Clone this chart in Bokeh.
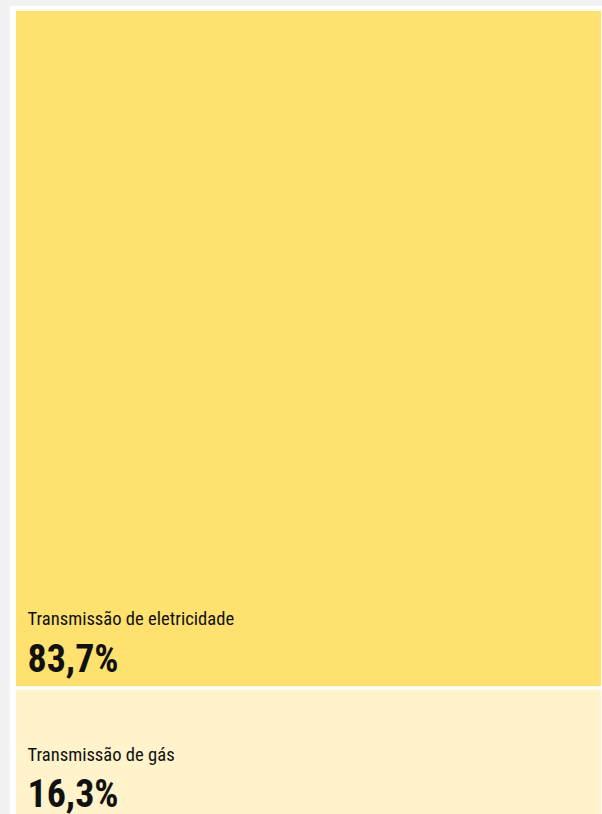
from bokeh.plotting import figure
from bokeh.models import ColumnDataSource, Range1d, GlobalInlineStyleSheet
from bokeh.core.properties import value
from bokeh.embed import file_html
from bokeh.resources import INLINE

categories = ["Transmissão de eletricidade", "Transmissão de gás"]
shares = [83.7, 16.3]
share_labels = ["83,7%", "16,3%"]
colors = ["#FFE16F", "#FEF3CB"]

# stack the treemap cells vertically (top to bottom)
tops, bottoms = [], []
acc = 100.0
for s in shares:
    tops.append(acc)
    bottoms.append(acc - s)
    acc -= s

src = ColumnDataSource(dict(cat=categories, share=shares, lab=share_labels,
                            top=tops, bottom=bottoms, color=colors,
                            left=[0] * len(shares), right=[1] * len(shares),
                            num_off=[-29, -26], cat_off=[-69, -65]))

p = figure(width=593, height=809, output_backend="svg", toolbar_location=None,
           x_range=Range1d(0, 1), y_range=Range1d(0.7, 100),
           min_border=0, min_border_left=5, min_border_top=4,
           background_fill_color="white", border_fill_color="white")
p.stylesheets = [GlobalInlineStyleSheet(css="body{margin:5px 0 0 9px;background:#f1f1f1;}")]
p.axis.visible = False
p.grid.visible = False
p.outline_line_color = None

p.quad(left="left", right="right", top="top", bottom="bottom", source=src,
       fill_color="color", line_color="white", line_width=3)

p.text(x=0.022, y="bottom", text="lab", source=src, y_offset="num_off",
       text_font=value("Roboto Condensed"), text_font_style="bold", text_font_size="38px",
       text_color="#111111", text_baseline="alphabetic")
p.text(x=0.022, y="bottom", text="cat", source=src, y_offset="cat_off",
       text_font=value("Roboto Condensed"),
       text_font_size="18.6px",
       text_color="#111111", text_baseline="alphabetic")

open("out.html", "w").write(file_html(p, INLINE))
